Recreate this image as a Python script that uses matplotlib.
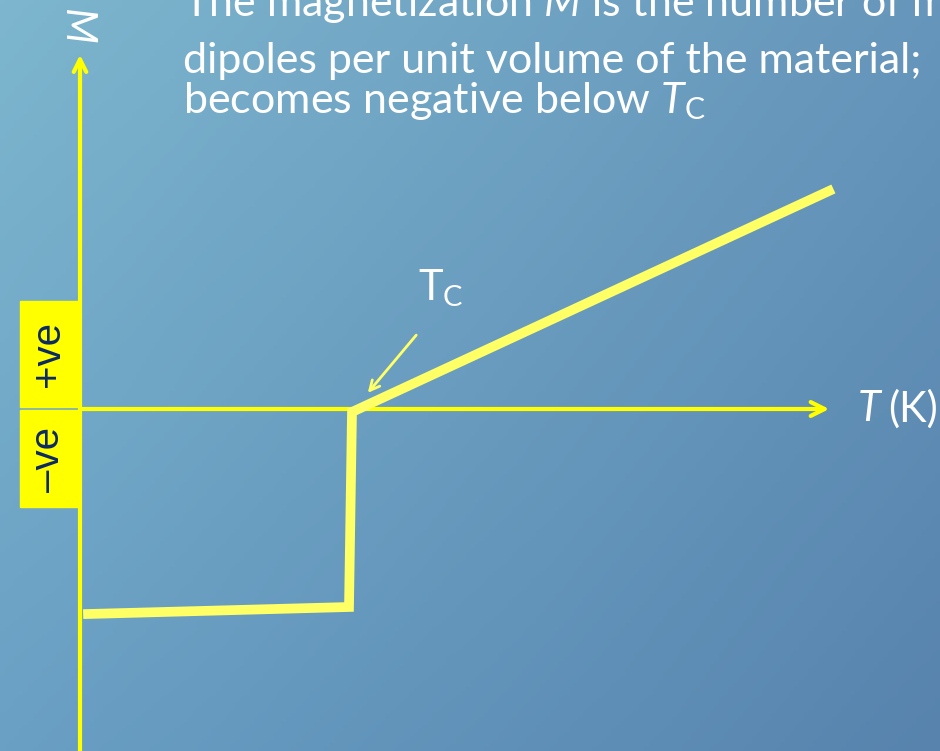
import numpy as np
import matplotlib.pyplot as plt

plt.rcParams['mathtext.fontset'] = 'custom'
plt.rcParams['mathtext.rm'] = 'Lato'
plt.rcParams['mathtext.it'] = 'Lato:italic'

# schematic M(T) curve (arbitrary units, origin at the axes crossing)
T_vals = [8, 269, 272, 749]
M_vals = [-205, -198, -3, 218]
T_c = 272

title_lines = [
    r'The magnetization $M$ is the number of magnetic',
    'dipoles per unit volume of the material;',
    r'becomes negative below $T_\mathregular{C}$',
]
title_baselines = [393, 336, 296]

fig = plt.figure(figsize=(9.4, 7.51), dpi=100)
ax = fig.add_axes([0, 0, 1, 1])
ax.set_xlim(-80, 860)
ax.set_ylim(-342, 409)
ax.axis('off')

# blue slide background, lighter towards the top left
corners = np.array([[[125, 182, 206], [102, 150, 187]],
                    [[106, 160, 196], [87, 131, 173]]]) / 255.0
u = np.linspace(0, 1, 200)
v = np.linspace(0, 1, 200)
U, V = np.meshgrid(u, v)
bg = ((1 - U)[..., None] * (1 - V)[..., None] * corners[0, 0]
      + U[..., None] * (1 - V)[..., None] * corners[0, 1]
      + (1 - U)[..., None] * V[..., None] * corners[1, 0]
      + U[..., None] * V[..., None] * corners[1, 1])
ax.imshow(bg, extent=(-80, 860, -342, 409), origin='upper', aspect='auto', zorder=0)

axis_yellow = '#FFFF00'
curve_yellow = '#FFFF66'

# +ve / -ve tags on the M axis
ax.add_patch(plt.Rectangle((-60, 2), 59, 106, color=axis_yellow, zorder=2))
ax.add_patch(plt.Rectangle((-60, -98), 59, 97, color=axis_yellow, zorder=2))
ax.text(-32, 55, '+ve', rotation=90, ha='center', va='center', fontsize=29,
        family='Liberation Sans', color='#0B2A66', zorder=3)
ax.text(-32, -50, '\u2013ve', rotation=90, ha='center', va='center', fontsize=29,
        family='Liberation Sans', color='#0B2A66', zorder=3)

# axes with open arrowheads
ax.annotate('', xy=(0, 357), xytext=(0, -345),
            arrowprops=dict(arrowstyle='->,head_length=0.9,head_width=0.45',
                            color=axis_yellow, lw=3), zorder=3)
ax.annotate('', xy=(752, 0), xytext=(-2, 0),
            arrowprops=dict(arrowstyle='->,head_length=1.0,head_width=0.5',
                            color=axis_yellow, lw=3), zorder=3)

ax.plot(T_vals, M_vals, color=curve_yellow, lw=7, solid_joinstyle='miter', zorder=4)

# T_C pointer
ax.annotate('', xy=(T_c + 14, 14), xytext=(T_c + 66, 76),
            arrowprops=dict(arrowstyle='->,head_length=0.7,head_width=0.35',
                            color=curve_yellow, lw=2), zorder=5)
ax.text(T_c + 66, 100, r'T$_\mathregular{C}$', fontsize=30, family='Lato',
        color='white', ha='left', va='bottom', zorder=5)

ax.text(778, 0, 'T', fontsize=30, family='Lato', style='italic',
        color='white', ha='left', va='center', zorder=5)
ax.text(808, 0, '(K)', fontsize=30, family='Lato',
        color='white', ha='left', va='center', zorder=5)
ax.text(-4, 382, 'M', fontsize=30, family='Lato', style='italic', rotation=270,
        color='white', ha='center', va='center', zorder=5)

for line, y in zip(title_lines, title_baselines):
    ax.text(103, y, line, fontsize=31, family='Lato', color='white',
            ha='left', va='baseline', zorder=5)

fig.savefig('out.png', dpi=100)
